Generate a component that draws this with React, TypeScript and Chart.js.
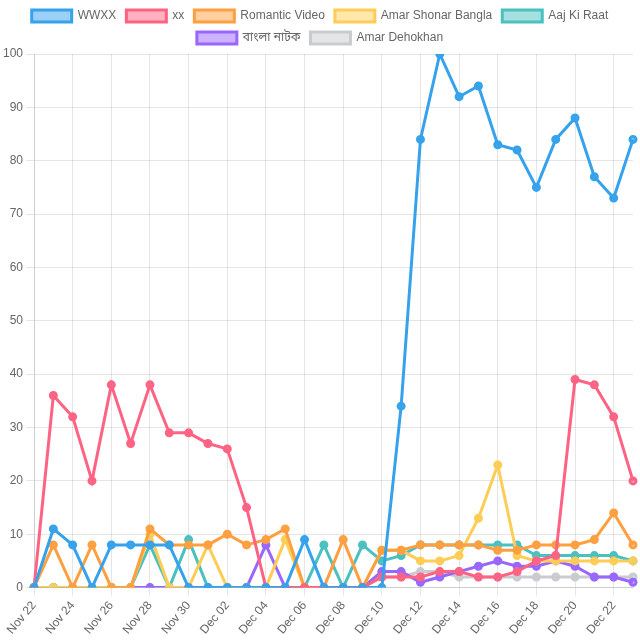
import React, { useEffect, useRef } from "react";
import { Chart, registerables } from "chart.js";

Chart.register(...registerables);

const labels = [
  "Nov 22", "Nov 23", "Nov 24", "Nov 25", "Nov 26", "Nov 27", "Nov 28", "Nov 29", "Nov 30",
  "Dec 01", "Dec 02", "Dec 03", "Dec 04", "Dec 05", "Dec 06", "Dec 07", "Dec 08", "Dec 09",
  "Dec 10", "Dec 11", "Dec 12", "Dec 13", "Dec 14", "Dec 15", "Dec 16", "Dec 17", "Dec 18",
  "Dec 19", "Dec 20", "Dec 21", "Dec 22", "Dec 23",
];

const wwxx = [0, 11, 8, 0, 8, 8, 8, 8, 0, 0, 0, 0, 0, 0, 9, 0, 0, 0, 0, 34, 84, 100, 92, 94, 83, 82, 75, 84, 88, 77, 73, 84];
const xx = [0, 36, 32, 20, 38, 27, 38, 29, 29, 27, 26, 15, 0, 0, 0, 0, 0, 0, 2, 2, 2, 3, 3, 2, 2, 3, 5, 6, 39, 38, 32, 20];
const romanticVideo = [0, 8, 0, 8, 0, 0, 11, 8, 8, 8, 10, 8, 9, 11, 0, 0, 9, 0, 7, 7, 8, 8, 8, 8, 7, 7, 8, 8, 8, 9, 14, 8];
const amarShonarBangla = [0, 0, 0, 0, 0, 0, 10, 0, 0, 8, 0, 0, 0, 9, 0, 0, 0, 0, 7, 7, 5, 5, 6, 13, 23, 6, 5, 5, 5, 5, 5, 5];
const aajKiRaat = [0, 0, 0, 0, 0, 0, 8, 0, 9, 0, 0, 0, 0, 0, 0, 8, 0, 8, 5, 6, 8, 8, 8, 8, 8, 8, 6, 6, 6, 6, 6, 5];
const banglaNatok = [0, 0, 0, 0, 0, 0, 0, 0, 0, 0, 0, 0, 8, 0, 0, 0, 0, 0, 3, 3, 1, 2, 3, 4, 5, 4, 4, 5, 4, 2, 2, 1];
const amarDehokhan = [0, 0, 0, 0, 0, 0, 0, 0, 0, 0, 0, 0, 0, 0, 0, 0, 0, 0, 2, 2, 3, 3, 2, 2, 2, 2, 2, 2, 2, 2, 2, 2];

const seriesNames = ["WWXX", "xx", "Romantic Video", "Amar Shonar Bangla", "Aaj Ki Raat", "বাংলা নাটক", "Amar Dehokhan"];
const seriesData = [wwxx, xx, romanticVideo, amarShonarBangla, aajKiRaat, banglaNatok, amarDehokhan];
const colors = [
  [54, 162, 235],
  [255, 99, 132],
  [255, 159, 64],
  [255, 205, 86],
  [75, 192, 192],
  [153, 102, 255],
  [201, 203, 207],
];

export default function App() {
  const ref = useRef<HTMLCanvasElement>(null);
  useEffect(() => {
    document.body.style.margin = "0";
    const fam = "'Helvetica Neue', Helvetica, Arial, 'Noto Sans', 'Noto Sans Bengali', sans-serif";
    Chart.defaults.font.family = fam;
    const chart = new Chart(ref.current!, {
      type: "line",
      data: {
        labels,
        datasets: seriesNames.map((name, i) => ({
          label: name,
          data: seriesData[i],
          borderColor: `rgb(${colors[i].join(",")})`,
          backgroundColor: `rgba(${colors[i].join(",")},0.5)`,
          borderWidth: 3,
          pointRadius: 3,
          tension: 0,
        })),
      },
      options: {
        animation: false,
        responsive: false,
        maintainAspectRatio: false,
        plugins: {
          legend: { position: "top" },
        },
        scales: {
          y: { min: 0, max: 100, ticks: { stepSize: 10 } },
          x: {},
        },
      },
    });
    return () => chart.destroy();
  }, []);
  return (
    <div style={{ width: 640, height: 640 }}>
      <canvas ref={ref} width={640} height={640} style={{ display: "block" }} />
    </div>
  );
}
